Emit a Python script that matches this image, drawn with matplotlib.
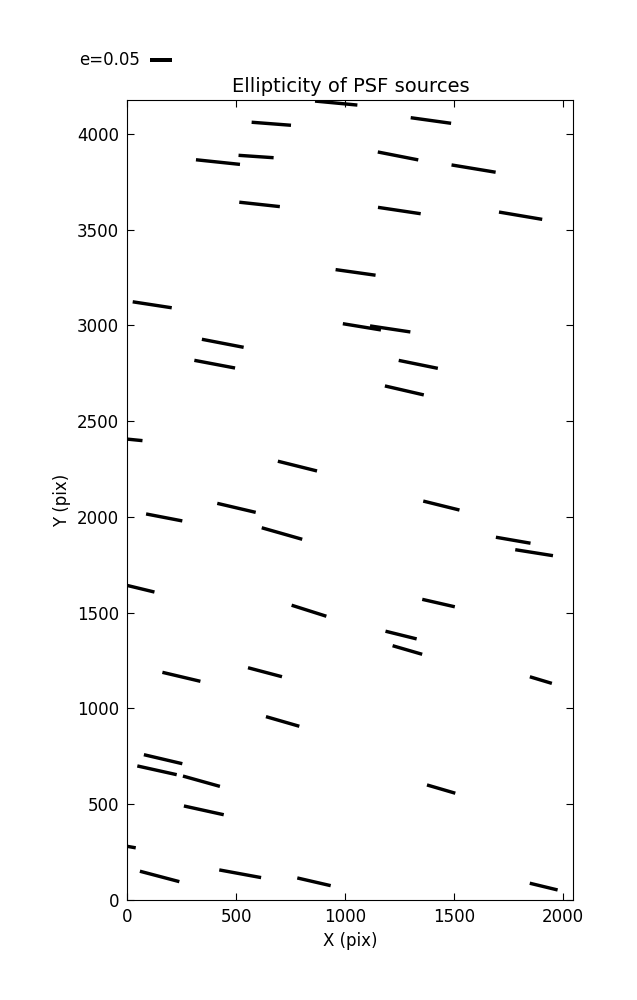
import numpy as np
import matplotlib
matplotlib.use("Agg")
import matplotlib.pyplot as plt

# Source positions (pix), ellipticity, orientation angle (deg)
x_pos = [959, 661, 1394, 416, 591, 1243, 1590, 607, 1249, 1806, 1048, 114,
         1077, 1207, 438, 401, 1336, 1272, -20, 781,
         169, 501, 710, 1442, 1772, 1868, 39, 834, 1429, 1257, 1286,
         248, 632, 1899, 713, 164, 136, 340, 1441, 351, -50,
         148, 518, 857, 1912]
y_pos = [4160, 4052, 4069, 3852, 3881, 3884, 3818, 3631, 3599, 3572, 3276, 3107,
         2992, 2981, 2906, 2797, 2796, 2660, 2408, 2265,
         1997, 2047, 1913, 2059, 1878, 1813, 1631, 1510, 1550, 1383, 1305,
         1165, 1189, 1148, 932, 735, 677, 620, 579, 468, 290,
         123, 137, 95, 70]
ellip = [0.098, 0.091, 0.094, 0.102, 0.081, 0.095, 0.103, 0.094, 0.0995, 0.101, 0.093, 0.091,
         0.089, 0.094, 0.098, 0.0955, 0.092, 0.092, 0.090, 0.093,
         0.085, 0.091, 0.097, 0.086, 0.081, 0.088, 0.088, 0.084, 0.077, 0.074, 0.071,
         0.090, 0.081, 0.053, 0.080, 0.091, 0.093, 0.0885, 0.068, 0.094, 0.090,
         0.094, 0.098, 0.079, 0.066]
angle = [-5.4, -4.4, -7.9, -6.0, -3.9, -11.1, -9.4, -6.2, -8.5, -9.6, -8.0, -8.7,
         -9.3, -8.5, -10.9, -10.7, -11.5, -13.0, -5.7, -14.0,
         -10.9, -13.2, -15.9, -13.9, -9.8, -9.0, -13.6, -17.6, -12.9, -13.9, -16.2,
         -13.3, -14.8, -16.7, -16.1, -13.2, -12.5, -15.6, -16.3, -12.4, -10.0,
         -14.8, -10.4, -13.0, -13.6]
key_e = 0.05

plt.rcParams['font.family'] = ['DejaVu Sans']
plt.rcParams['font.size'] = 12

fig = plt.figure(figsize=(6.37, 10.0), dpi=100)
fig.subplots_adjust(left=0.2, right=0.9, bottom=0.1, top=0.9)
ax = fig.add_subplot(111)

e = np.array(ellip)
th = np.deg2rad(np.array(angle))
U = e * np.cos(th)
V = e * np.sin(th)

q = ax.quiver(x_pos, y_pos, U, V, angles='uv', pivot='middle',
              units='inches', scale_units='inches', scale=0.05 / 0.217,
              width=0.034, headwidth=1, headlength=0, headaxislength=0,
              color='black')
ax.quiverkey(q, 0.2355, 0.94, key_e, 'e=0.05', labelpos='W',
             coordinates='figure', fontproperties={'size': 12})

ax.set_xlim(0, 2048)
ax.set_ylim(0, 4176)
ax.set_xticks([0, 500, 1000, 1500, 2000])
ax.set_yticks([0, 500, 1000, 1500, 2000, 2500, 3000, 3500, 4000])
ax.tick_params(direction='in', top=True, right=True, length=5, labelsize=12, pad=6)
ax.set_xlabel('X (pix)', fontsize=12)
ax.set_ylabel('Y (pix)', fontsize=12)
ax.set_title('Ellipticity of PSF sources', fontsize=14)

fig.savefig('out.png', dpi=100, facecolor='white')
